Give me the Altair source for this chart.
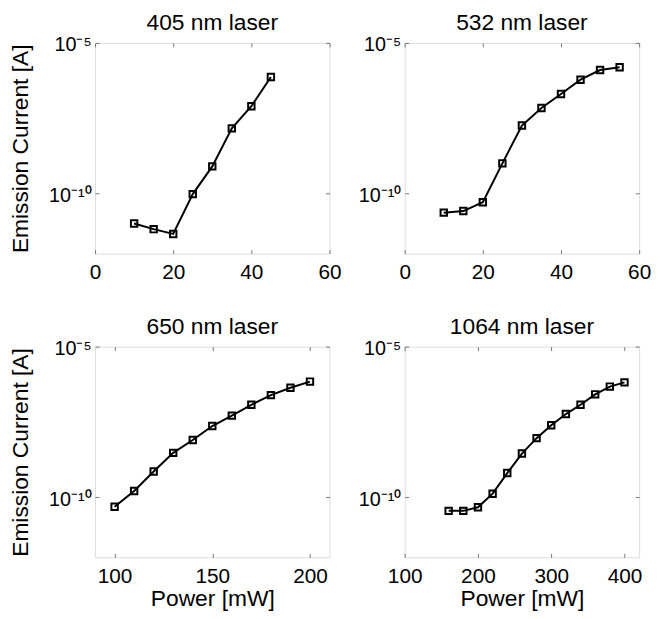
import altair as alt
import pandas as pd

# ---- data ----
p405 = [10, 15, 20, 25, 30, 35, 40, 45]
i405 = [1.0e-11, 6.5e-12, 4.5e-12, 9.5e-11, 7.9e-10, 1.45e-8, 7.9e-8, 7.4e-7]

p532 = [10, 15, 20, 25, 30, 35, 40, 45, 50, 55]
i532 = [2.3e-11, 2.6e-11, 5.1e-11, 1.0e-9, 1.8e-8, 6.9e-8, 2.0e-7, 6.0e-7, 1.26e-6, 1.55e-6]

p650 = [100, 110, 120, 130, 140, 150, 160, 170, 180, 190, 200]
i650 = [4.8e-11, 1.6e-10, 7.1e-10, 2.95e-9, 7.9e-9, 2.3e-8, 5.1e-8, 1.17e-7, 2.45e-7, 4.3e-7, 6.9e-7]

p1064 = [160, 180, 200, 220, 240, 260, 280, 300, 320, 340, 360, 380, 400]
i1064 = [3.5e-11, 3.5e-11, 4.6e-11, 1.3e-10, 6.3e-10, 2.8e-9, 9.1e-9, 2.45e-8, 5.75e-8, 1.17e-7, 2.6e-7, 4.7e-7, 6.5e-7]

titles = ["405 nm laser", "532 nm laser", "650 nm laser", "1064 nm laser"]
xdomains = [[0, 60], [0, 60], [90, 210], [100, 420]]
xticks = [[0, 20, 40, 60], [0, 20, 40, 60], [100, 150, 200], [100, 200, 300, 400]]
ydomain = [1e-12, 1e-5]
yticks = [1e-10, 1e-5]

FONT = "Liberation Sans"
W, H = 237, 213
TICK = 4
BOX = "#777777"


def panel(xs, ys, title, xdom, xt, ytitle, xtitle):
    df = pd.DataFrame({"p": xs, "i": ys})
    x = alt.X(
        "p:Q",
        scale=alt.Scale(domain=xdom, nice=False, zero=False),
        axis=alt.Axis(
            values=xt, title=xtitle, ticks=False, tickSize=0, domain=False,
            grid=True, gridColor=BOX, gridWidth=1, gridOpacity=1,
            gridDash=[TICK, H - 2 * TICK, TICK, 1000],
            labelFont=FONT, labelFontSize=21, labelColor="black",
            labelPadding=8, labelFlush=False,
            titleFont=FONT, titleFontSize=23, titleFontWeight="normal",
            titleColor="black", titlePadding=2,
        ),
    )
    y = alt.Y(
        "i:Q",
        scale=alt.Scale(type="log", domain=ydomain, nice=False),
        axis=alt.Axis(
            values=yticks, title=ytitle, ticks=False, tickSize=0, domain=False,
            grid=True, gridColor=BOX, gridWidth=1, gridOpacity=1,
            gridDash=[TICK, W - 2 * TICK, TICK, 1000],
            labelExpr="datum.value > 1e-7 ? '10⁻⁵' : '10⁻¹⁰'",
            labelFont=FONT, labelFontSize=20, labelColor="black",
            labelPadding=4, labelFlush=False, labelOffset=2,
            titleFont=FONT, titleFontSize=23, titleFontWeight="normal",
            titleColor="black", titlePadding=16,
        ),
    )
    base = alt.Chart(df)
    line = base.mark_line(color="black", strokeWidth=2).encode(x=x, y=y)
    pts = base.mark_point(shape="square", size=42, filled=False, color="black",
                          strokeWidth=2, opacity=1).encode(x="p:Q", y="i:Q")
    return alt.layer(line, pts).properties(
        width=W, height=H,
        title=alt.TitleParams(title, font=FONT, fontSize=23, fontWeight="normal",
                              color="black", offset=0),
    )


c1 = panel(p405, i405, titles[0], xdomains[0], xticks[0], "Emission Current [A]", None)
c2 = panel(p532, i532, titles[1], xdomains[1], xticks[1], None, None)
c3 = panel(p650, i650, titles[2], xdomains[2], xticks[2], "Emission Current [A]", "Power [mW]")
c4 = panel(p1064, i1064, titles[3], xdomains[3], xticks[3], None, "Power [mW]")

chart = alt.concat(
    c1, c2, c3, c4, columns=2,
    spacing={"row": 94, "column": 76}, bounds="flush",
).properties(
    padding={"left": 1, "top": 0, "right": 0, "bottom": 0}
).configure_view(stroke=BOX, strokeWidth=1).configure(background="white")

chart.save("out.html", embed_options={"renderer": "svg", "actions": False})
